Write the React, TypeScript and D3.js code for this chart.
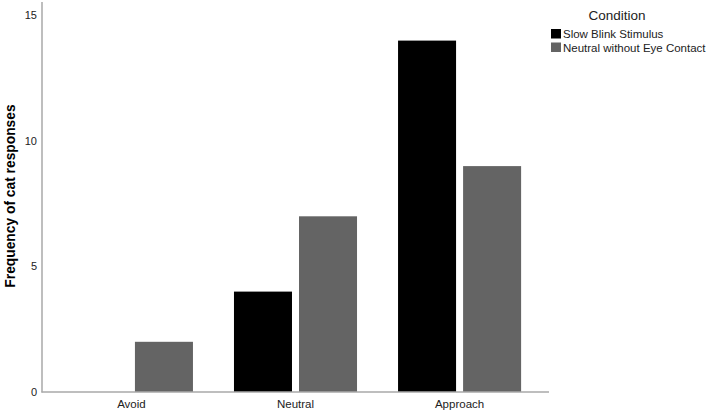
import React from "react";
import * as d3 from "d3";

const categories = ["Avoid", "Neutral", "Approach"];
const seriesNames = ["Slow Blink Stimulus", "Neutral without Eye Contact"];
const slowBlink = [0, 4, 14];
const neutralNoEye = [2, 7, 9];
const yTicks = [0, 5, 10, 15];
const colors = ["#000000", "#646464"];

const W = 708;
const H = 412;

export default function App() {
  const x0 = d3
    .scaleBand<string>()
    .domain(categories)
    .range([42, 549])
    .paddingInner(0.25)
    .paddingOuter(0.17);
  const x1 = d3
    .scaleBand<string>()
    .domain(seriesNames)
    .range([0, x0.bandwidth()])
    .paddingInner(0.108)
    .paddingOuter(0);
  const y = d3.scaleLinear().domain([0, 15]).range([392, 15.5]);
  const values = [slowBlink, neutralNoEye];

  return (
    <svg
      width={W}
      height={H}
      style={{ position: "absolute", left: 0, top: 0, background: "#fff" }}
      fontFamily="'Liberation Sans', Arial, sans-serif"
    >
      {categories.map((c, ci) =>
        seriesNames.map((s, si) => {
          const v = values[si][ci];
          if (v <= 0) return null;
          return (
            <rect
              key={c + s}
              x={(x0(c) ?? 0) + (x1(s) ?? 0)}
              y={y(v)}
              width={x1.bandwidth()}
              height={y(0) - y(v)}
              fill={colors[si]}
            />
          );
        })
      )}
      <line x1={42} x2={42} y1={2} y2={392.5} stroke="#a8a8a8" strokeWidth={1.5} />
      <line x1={41.5} x2={549} y1={392} y2={392} stroke="#a8a8a8" strokeWidth={1.5} />
      {yTicks.map((t) => (
        <text
          key={t}
          x={37}
          y={y(t)}
          dy="0.35em"
          textAnchor="end"
          fontSize={11}
          fill="#222"
        >
          {t}
        </text>
      ))}
      {categories.map((c) => (
        <text
          key={c}
          x={(x0(c) ?? 0) + x0.bandwidth() / 2}
          y={408}
          textAnchor="middle"
          fontSize={11.5}
          fill="#222"
        >
          {c}
        </text>
      ))}
      <text
        transform={`translate(14.5,196) rotate(-90)`}
        textAnchor="middle"
        fontSize={13.8}
        fontWeight="bold"
        fill="#000"
      >
        Frequency of cat responses
      </text>
      <text x={617} y={20} textAnchor="middle" fontSize={13.5} fill="#222">
        Condition
      </text>
      {seriesNames.map((s, i) => (
        <g key={s} transform={`translate(551,${29 + i * 13.5})`}>
          <rect width={10} height={9.5} fill={colors[i]} />
          <text x={12} y={9} fontSize={11.5} fill="#222">
            {s}
          </text>
        </g>
      ))}
    </svg>
  );
}
